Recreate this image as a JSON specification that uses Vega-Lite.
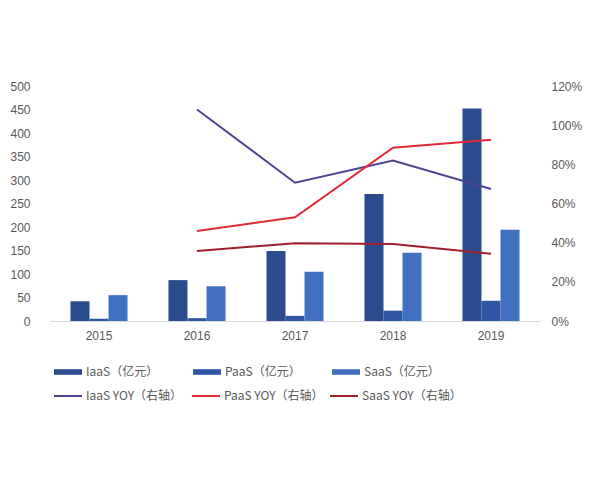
{
  "$schema": "https://vega.github.io/schema/vega-lite/v6.json",
  "autosize": {"type": "none"},
  "width": 490,
  "height": 235,
  "padding": {"left": 50, "top": 86, "right": 60, "bottom": 159},
  "background": "white",
  "config": {
    "view": {"stroke": null},
    "font": "Liberation Sans",
    "axis": {"labelColor": "#595959", "labelFontSize": 12, "grid": false, "ticks": false, "title": null}
  },
  "datasets": {
    "bars": [
      {"year": "2015", "series": "IaaS（亿元）", "value": 42},
      {"year": "2015", "series": "PaaS（亿元）", "value": 5},
      {"year": "2015", "series": "SaaS（亿元）", "value": 55},
      {"year": "2016", "series": "IaaS（亿元）", "value": 87},
      {"year": "2016", "series": "PaaS（亿元）", "value": 6},
      {"year": "2016", "series": "SaaS（亿元）", "value": 74},
      {"year": "2017", "series": "IaaS（亿元）", "value": 149},
      {"year": "2017", "series": "PaaS（亿元）", "value": 11},
      {"year": "2017", "series": "SaaS（亿元）", "value": 105},
      {"year": "2018", "series": "IaaS（亿元）", "value": 270},
      {"year": "2018", "series": "PaaS（亿元）", "value": 22},
      {"year": "2018", "series": "SaaS（亿元）", "value": 145},
      {"year": "2019", "series": "IaaS（亿元）", "value": 452},
      {"year": "2019", "series": "PaaS（亿元）", "value": 43},
      {"year": "2019", "series": "SaaS（亿元）", "value": 194}
    ],
    "yoy": [
      {"year": "2016", "series": "IaaS YOY（右轴）", "value": 1.08},
      {"year": "2017", "series": "IaaS YOY（右轴）", "value": 0.706},
      {"year": "2018", "series": "IaaS YOY（右轴）", "value": 0.82},
      {"year": "2019", "series": "IaaS YOY（右轴）", "value": 0.674},
      {"year": "2016", "series": "PaaS YOY（右轴）", "value": 0.46},
      {"year": "2017", "series": "PaaS YOY（右轴）", "value": 0.53},
      {"year": "2018", "series": "PaaS YOY（右轴）", "value": 0.885},
      {"year": "2019", "series": "PaaS YOY（右轴）", "value": 0.926},
      {"year": "2016", "series": "SaaS YOY（右轴）", "value": 0.357},
      {"year": "2017", "series": "SaaS YOY（右轴）", "value": 0.397},
      {"year": "2018", "series": "SaaS YOY（右轴）", "value": 0.393},
      {"year": "2019", "series": "SaaS YOY（右轴）", "value": 0.344}
    ]
  },
  "layer": [
    {
      "data": {"name": "bars"},
      "mark": {"type": "bar"},
      "encoding": {
        "x": {
          "field": "year", "type": "nominal",
          "scale": {"paddingInner": 0.418, "paddingOuter": 0.209},
          "axis": {"labelAngle": 0, "domainColor": "#d9d9d9", "labelPadding": 9}
        },
        "xOffset": {"field": "series", "type": "nominal", "scale": {"paddingInner": 0, "paddingOuter": 0}},
        "y": {
          "field": "value", "type": "quantitative",
          "scale": {"domain": [0, 500]},
          "axis": {"values": [0, 50, 100, 150, 200, 250, 300, 350, 400, 450, 500], "domain": false, "labelPadding": 20}
        },
        "fill": {
          "field": "series", "type": "nominal",
          "scale": {"domain": ["IaaS（亿元）", "PaaS（亿元）", "SaaS（亿元）"], "range": ["#2a4b8d", "#2f56a3", "#4170c0"]},
          "legend": {
            "orient": "none", "legendX": 3, "legendY": 271,
            "direction": "horizontal", "columns": 3, "gridAlign": "all",
            "columnPadding": 30, "title": null,
            "symbolType": "M-1,-0.2H1V0.2H-1Z", "symbolSize": 784, "symbolOpacity": 1,
            "labelFont": "Noto Sans CJK SC", "labelFontSize": 12, "labelColor": "#595959", "labelOffset": 3
          }
        }
      }
    },
    {
      "data": {"name": "yoy"},
      "mark": {"type": "line", "strokeWidth": 2},
      "encoding": {
        "x": {"field": "year", "type": "nominal"},
        "y": {
          "field": "value", "type": "quantitative",
          "scale": {"domain": [0, 1.2]},
          "axis": {"orient": "right", "format": ".0%", "values": [0, 0.2, 0.4, 0.6, 0.8, 1.0, 1.2], "domain": false, "labelPadding": 11}
        },
        "stroke": {
          "field": "series", "type": "nominal",
          "scale": {"domain": ["IaaS YOY（右轴）", "PaaS YOY（右轴）", "SaaS YOY（右轴）"], "range": ["#4d4490", "#e02a36", "#a01f2d"]},
          "legend": {
            "orient": "none", "legendX": 3, "legendY": 295,
            "direction": "horizontal", "columns": 3, "gridAlign": "all",
            "columnPadding": 2, "title": null,
            "symbolType": "stroke", "symbolSize": 784, "symbolStrokeWidth": 2,
            "labelFont": "Noto Sans CJK SC", "labelFontSize": 12, "labelColor": "#595959", "labelOffset": 3
          }
        }
      }
    }
  ],
  "resolve": {"scale": {"y": "independent"}}
}
